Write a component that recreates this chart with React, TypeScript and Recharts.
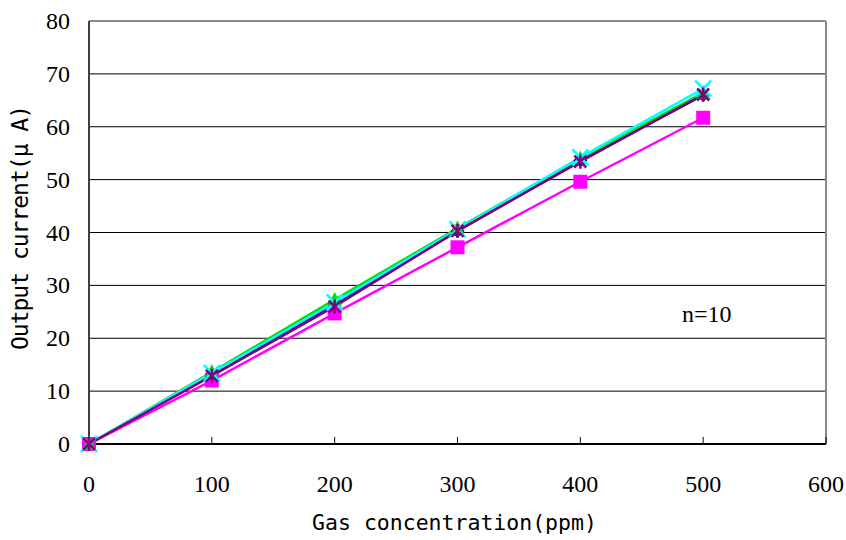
import React, { useLayoutEffect } from 'react'
import { LineChart, Line, XAxis, YAxis, CartesianGrid, ReferenceLine } from 'recharts'

// gas concentration (ppm)
const concentrations = [0, 100, 200, 300, 400, 500]

// output current (uA) for each sensor series
const seriesNavy = [0, 13.2, 26.5, 40.3, 53.6, 66.0]
const seriesMagenta = [0, 12.0, 24.7, 37.2, 49.6, 61.7]
const seriesGreen = [0, 13.6, 27.3, 40.8, 54.0, 66.4]
const seriesCyan = [0, 13.4, 26.8, 40.6, 54.2, 67.2]
const seriesPurple = [0, 12.9, 26.0, 40.3, 53.4, 66.1]

const xTicks = [0, 100, 200, 300, 400, 500, 600]
const yTicks = [0, 10, 20, 30, 40, 50, 60, 70, 80]

const chartData = concentrations.map((c, i) => ({
  x: c,
  navy: seriesNavy[i],
  magenta: seriesMagenta[i],
  green: seriesGreen[i],
  cyan: seriesCyan[i],
  purple: seriesPurple[i],
}))

const serif = '"Liberation Serif", "Times New Roman", serif'
const mono = '"DejaVu Sans Mono", "Liberation Mono", monospace'

const XTick = (p: any) => {
  const { x, y, payload } = p
  return (
    <text x={x} y={y} dy={17} textAnchor="middle" style={{ fontSize: 24, fontFamily: serif }} fill="#000">
      {payload.value}
    </text>
  )
}

const YTick = (p: any) => {
  const { x, y, payload } = p
  return (
    <text x={x} y={y} dy={8} textAnchor="end" style={{ fontSize: 24, fontFamily: serif }} fill="#000">
      {payload.value}
    </text>
  )
}

const Diamond = (p: any) => {
  const { cx, cy, index } = p
  const r = 7
  return <path key={`d${index}`} d={`M${cx},${cy - r}L${cx + r},${cy}L${cx},${cy + r}L${cx - r},${cy}Z`} fill="#000080" />
}

const Square = (p: any) => {
  const { cx, cy, index } = p
  return <rect key={`s${index}`} x={cx - 7} y={cy - 7} width={14} height={14} fill="#FF00FF" />
}

const Triangle = (p: any) => {
  const { cx, cy, index } = p
  return <path key={`t${index}`} d={`M${cx},${cy - 8}L${cx + 7},${cy + 6}L${cx - 7},${cy + 6}Z`} fill="#00E000" />
}

const Cross = (p: any) => {
  const { cx, cy, index } = p
  const r = 8
  return (
    <path key={`x${index}`} d={`M${cx - r},${cy - r}L${cx + r},${cy + r}M${cx + r},${cy - r}L${cx - r},${cy + r}`} stroke="#00FFFF" strokeWidth={2.5} />
  )
}

const Star = (p: any) => {
  const { cx, cy, index } = p
  const r = 6
  return (
    <path
      key={`a${index}`}
      d={`M${cx - r},${cy - r}L${cx + r},${cy + r}M${cx + r},${cy - r}L${cx - r},${cy + r}M${cx},${cy - r - 1}L${cx},${cy + r + 1}`}
      stroke="#800080"
      strokeWidth={2.5}
    />
  )
}

export default function App() {
  // drop the default body margin so the chart fills the whole 846x540 window
  useLayoutEffect(() => {
    document.body.style.margin = '0'
  }, [])

  return (
    <div style={{ position: 'relative', width: 846, height: 540 }}>
      <LineChart width={846} height={540} data={chartData} margin={{ top: 21, right: 20, left: 0, bottom: 0 }}>
        <CartesianGrid vertical={false} stroke="#000" strokeWidth={1} />
        <XAxis
          type="number"
          dataKey="x"
          domain={[0, 600]}
          ticks={xTicks}
          height={96}
          tickSize={-7}
          tickMargin={38}
          stroke="#000"
          axisLine={{ stroke: '#000', strokeWidth: 2 }}
          tick={XTick}
        />
        <YAxis
          type="number"
          domain={[0, 80]}
          ticks={yTicks}
          width={89}
          tickLine={false}
          tickSize={0}
          tickMargin={19}
          axisLine={{ stroke: '#404040', strokeWidth: 2 }}
          tick={YTick}
        />
        <ReferenceLine y={80} stroke="#888" strokeWidth={2} />
        <ReferenceLine x={600} stroke="#888" strokeWidth={2} />
        <Line dataKey="navy" stroke="#000080" strokeWidth={2.5} dot={Diamond} isAnimationActive={false} />
        <Line dataKey="magenta" stroke="#FF00FF" strokeWidth={2.5} dot={Square} isAnimationActive={false} />
        <Line dataKey="green" stroke="#00E000" strokeWidth={2.5} dot={Triangle} isAnimationActive={false} />
        <Line dataKey="cyan" stroke="#00FFFF" strokeWidth={2.5} dot={Cross} isAnimationActive={false} />
        <Line dataKey="purple" stroke="#800080" strokeWidth={2.5} dot={Star} isAnimationActive={false} />
      </LineChart>
      <svg width={846} height={540} style={{ position: 'absolute', left: 0, top: 0, pointerEvents: 'none' }}>
        <text x={454.5} y={530} textAnchor="middle" style={{ fontSize: 21.5, fontFamily: mono }} fill="#000">
          Gas concentration(ppm)
        </text>
        <text
          transform="translate(28,228) rotate(-90)"
          textAnchor="middle"
          letterSpacing={-1}
          style={{ fontSize: 23, fontFamily: mono }}
          fill="#000"
        >
          Output current(μ A)
        </text>
        <text x={682} y={322} style={{ fontSize: 24, fontFamily: serif }} fill="#000">
          n=10
        </text>
      </svg>
    </div>
  )
}
